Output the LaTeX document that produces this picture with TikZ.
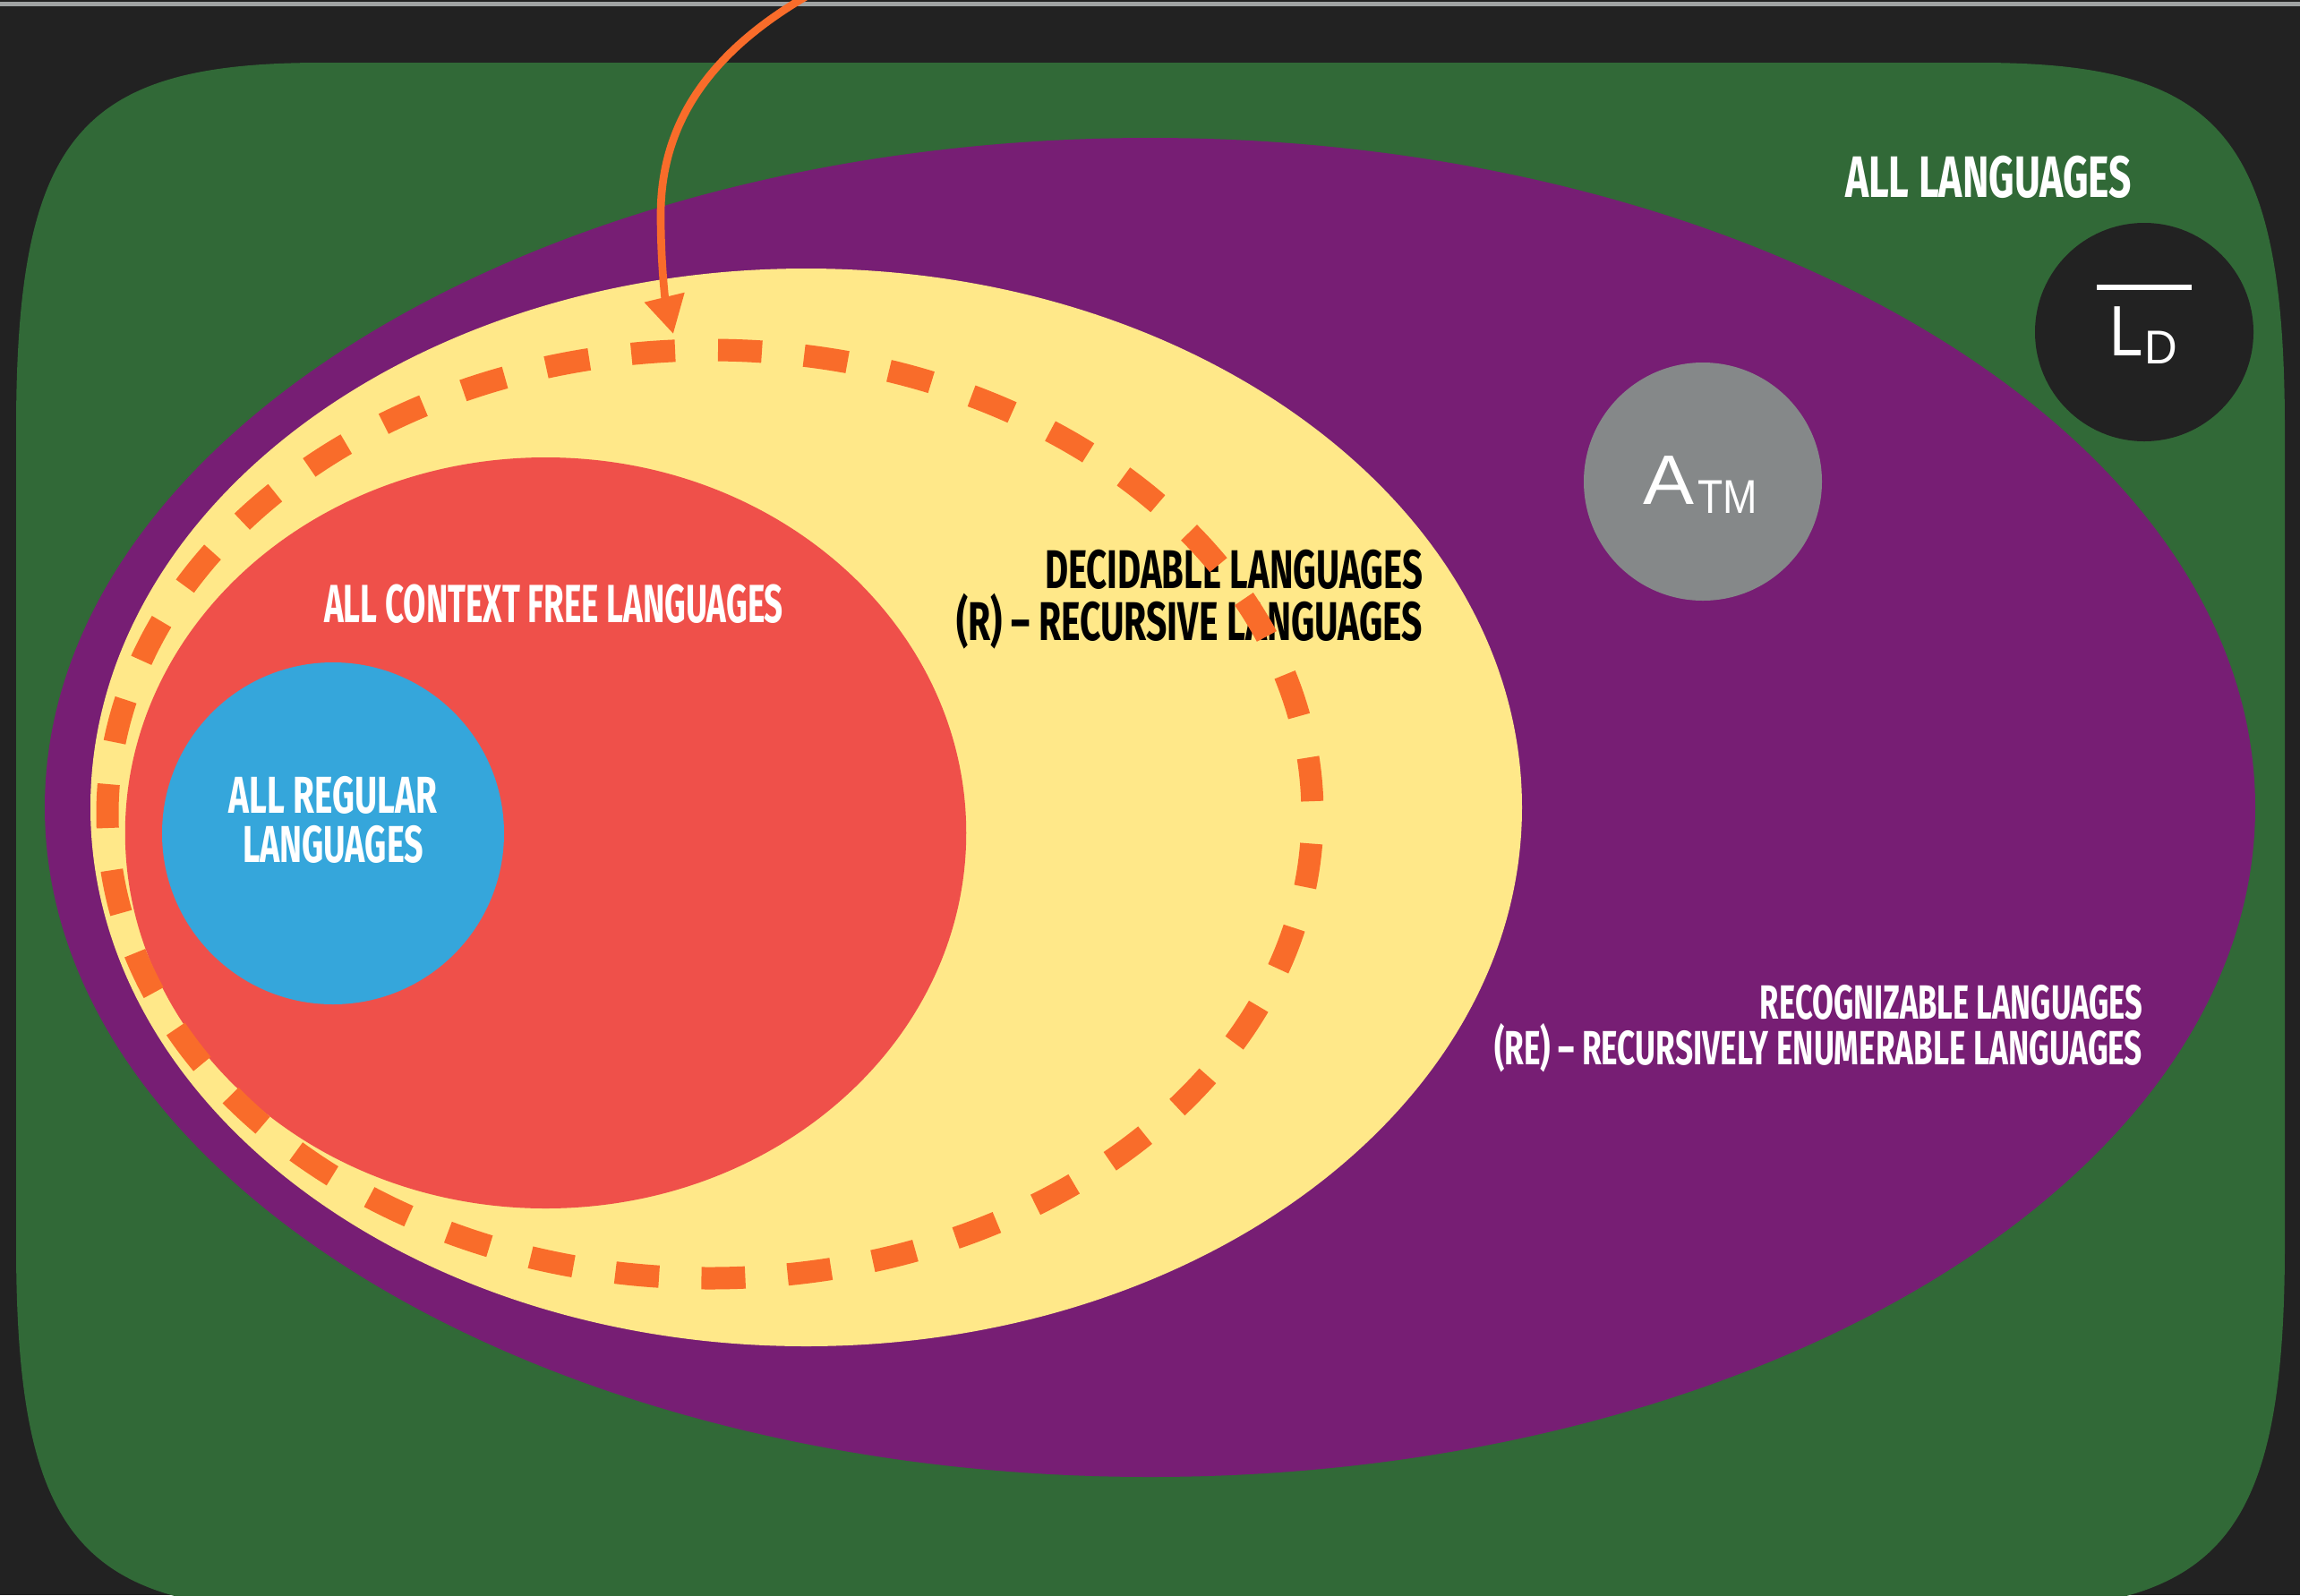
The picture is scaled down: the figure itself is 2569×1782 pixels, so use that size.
\documentclass[tikz,border=0pt]{standalone}
\usepackage{fontspec}
\usepackage{graphicx}
\usetikzlibrary{shapes.geometric,arrows.meta}
\newfontfamily\dinfont{Fira Sans}
\newfontfamily\avfont{Liberation Sans}
\definecolor{bgc}{HTML}{222222}
\definecolor{toplinec}{HTML}{A0A3A3}
\definecolor{greenc}{HTML}{316937}
\definecolor{purplec}{HTML}{771E74}
\definecolor{yellowc}{HTML}{FFE889}
\definecolor{redc}{HTML}{EF504A}
\definecolor{bluec}{HTML}{35A6DB}
\definecolor{orangec}{HTML}{F96C2A}
\definecolor{grayc}{HTML}{858889}
\newcommand\fitto[2]{\resizebox{#1}{\height}{#2}}
\begin{document}
\begin{tikzpicture}[x=0.3pt,y=-0.3pt,
  blob/.style={draw=none, inner sep=0pt, outer sep=0pt},
  oval/.style={blob, ellipse},
  disc/.style={blob, circle},
  dinlab/.style={inner sep=0pt, outer sep=0pt, text=white, font=\dinfont\bfseries\fontsize{#1}{#1}\selectfont},
  avlab/.style={inner sep=0pt, outer sep=0pt, text=white, font=\avfont\fontsize{#1}{#1}\selectfont},
  ring/.style={draw=orangec, line width=7.5pt, dash pattern=on 14.7pt off 14.215pt, dash phase=26.21pt},
  pointer/.style={draw=orangec, line width=2.6pt, -{Triangle[length=12.6pt,width=13.2pt]}}
]
\useasboundingbox (0,0) rectangle (2569,1782);
\fill[bgc] (0,0) rectangle (2569,1782);
\fill[toplinec] (0,2) rectangle (2569,7);
% all languages (green rounded shape)
\fill[greenc] (18,480) .. controls (18,150) and (90,70) .. (360,70) -- (2210,70)
  .. controls (2480,70) and (2552,150) .. (2552,480) -- (2552,1390)
  .. controls (2552,1720) and (2480,1800) .. (2210,1800) -- (360,1800)
  .. controls (90,1800) and (18,1720) .. (18,1390) -- cycle;
\node[disc, fill=bgc, minimum size=73.2pt] (ld) at (2395,371) {};
\node[oval, fill=purplec, minimum width=740.7pt, minimum height=448.8pt] (re) at (1284.5,902) {};
\node[disc, fill=grayc, minimum size=79.8pt] (atm) at (1902,538) {};
\node[oval, fill=yellowc, minimum width=479.7pt, minimum height=361.2pt] (dec) at (900.5,902) {};
\node[oval, fill=redc, minimum width=281.85pt, minimum height=251.7pt] (cfl) at (609.5,930.5) {};
\node[disc, fill=bluec, minimum size=114.6pt] (reg) at (372,931) {};
% labels
\node[dinlab=19.6, anchor=base west] (allt) at (2061,220) {\fitto{96pt}{ALL LANGUAGES}};
\node[dinlab=18.3, anchor=base east, text=black] (dect1) at (1589,657) {\fitto{126.6pt}{DECIDABLE LANGUAGES}};
\node[dinlab=18.3, anchor=base east, text=black] (dect2) at (1589,715) {\fitto{156.3pt}{(R) – RECURSIVE LANGUAGES}};
\node[dinlab=18, anchor=base west] (cflt) at (362,695) {\fitto{153.9pt}{ALL CONTEXT FREE LANGUAGES}};
\node[dinlab=17.4, anchor=base] (regt1) at (372,908) {\fitto{69.6pt}{ALL REGULAR}};
\node[dinlab=17.4, anchor=base] (regt2) at (372,963) {\fitto{60.6pt}{LANGUAGES}};
\node[dinlab=16.1, anchor=base east] (ret1) at (2393,1138) {\fitto{128.1pt}{RECOGNIZABLE LANGUAGES}};
\node[dinlab=16.1, anchor=base east] (ret2) at (2393,1189) {\fitto{217.2pt}{(RE) – RECURSIVELY ENUMERABLE LANGUAGES}};
\node[avlab=23.5, anchor=base west] (atmA) at (1835,563) {\fitto{17.1pt}{A}};
\node[avlab=15.9, anchor=base west] (atmTM) at (1896,573) {\fitto{20pt}{TM}};
\node[avlab=23.9, anchor=base west] (ldL) at (2356,397) {\fitto{11.2pt}{L}};
\node[avlab=15.9, anchor=base west] (ldD) at (2395,406) {\fitto{11pt}{D}};
\fill[white] (2342,318) rectangle (2448,324);
% dashed ring
\coordinate (ringtop) at (793,391);
\draw[ring] (ringtop) arc[start angle=270, end angle=630, x radius=673, y radius=518.5];
% pointer arrow
\coordinate (arrowstart) at (902,-5);
\coordinate (arrowtip) at (752,373);
\draw[pointer] (arrowstart) .. controls (790,60) and (738,140) .. (738,240)
  .. controls (738,300) and (744,340) .. (arrowtip);
\end{tikzpicture}
\end{document}
